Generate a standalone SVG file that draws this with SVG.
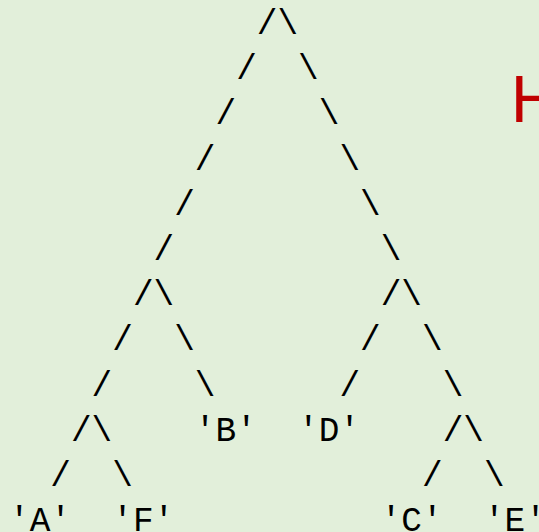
<svg xmlns="http://www.w3.org/2000/svg" width="539" height="532" viewBox="0 0 539 532">
<style>
.t{font-family:"Liberation Mono","Courier New",monospace;font-size:34.4px;fill:#000}
.h{font-family:"Liberation Sans",Arial,sans-serif;font-size:66.6px;fill:#C00000}
</style>
<rect width="539" height="532" fill="#E2EFDA"/>
<g id="connectors" class="t">
<text x="256.8" y="33.9">/</text><text x="277.45" y="33.9">\</text>
<text x="236.15" y="79.1">/</text><text x="298.1" y="79.1">\</text>
<text x="215.5" y="124.3">/</text><text x="318.75" y="124.3">\</text>
<text x="194.85" y="169.5">/</text><text x="339.4" y="169.5">\</text>
<text x="174.2" y="214.7">/</text><text x="360.05" y="214.7">\</text>
<text x="153.55" y="259.9">/</text><text x="380.7" y="259.9">\</text>
<text x="132.9" y="305.1">/</text><text x="153.55" y="305.1">\</text><text x="380.7" y="305.1">/</text><text x="401.35" y="305.1">\</text>
<text x="112.25" y="350.3">/</text><text x="174.2" y="350.3">\</text><text x="360.05" y="350.3">/</text><text x="422" y="350.3">\</text>
<text x="91.6" y="395.5">/</text><text x="194.85" y="395.5">\</text><text x="339.4" y="395.5">/</text><text x="442.65" y="395.5">\</text>
<text x="70.95" y="440.7">/</text><text x="91.6" y="440.7">\</text><text x="442.65" y="440.7">/</text><text x="463.3" y="440.7">\</text>
<text x="50.3" y="485.9">/</text><text x="112.25" y="485.9">\</text><text x="422" y="485.9">/</text><text x="483.95" y="485.9">\</text>
</g>
<g id="node-B" class="t"><text x="194.85" y="440.7">'B'</text></g>
<g id="node-D" class="t"><text x="298.1" y="440.7">'D'</text></g>
<g id="node-A" class="t"><text x="9" y="531.1">'A'</text></g>
<g id="node-F" class="t"><text x="112.25" y="531.1">'F'</text></g>
<g id="node-C" class="t"><text x="380.7" y="531.1">'C'</text></g>
<g id="node-E" class="t"><text x="483.95" y="531.1">'E'</text></g>
<g id="title"><text class="h" x="510.7" y="121.7">H</text></g>
</svg>
